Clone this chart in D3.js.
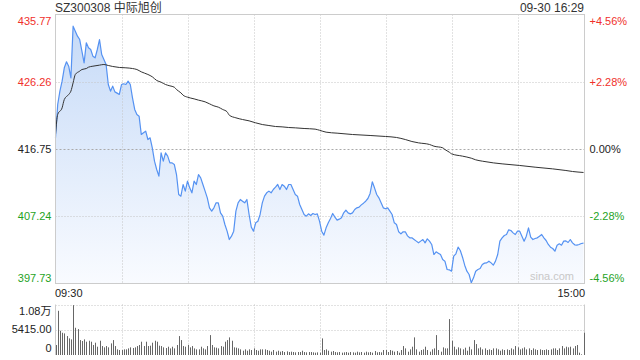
<!DOCTYPE html>
<html><head><meta charset="utf-8">
<script src="https://cdn.jsdelivr.net/npm/d3@7"></script>
<style>
html,body{margin:0;padding:0;background:#fff;}
svg{display:block;font-family:"Liberation Sans",Arial,"Noto Sans CJK SC",sans-serif;}
</style></head>
<body>
<svg id="chart" width="640" height="360"></svg>
<script>
// ---------- DATA ----------
const title = "SZ300308 中际旭创";
const stamp = "09-30 16:29";
const prevClose = 416.75;
const priceTicks = [435.77, 426.26, 416.75, 407.24, 397.73];
const pctTicks = ["+4.56%", "+2.28%", "0.00%", "-2.28%", "-4.56%"];
const timeTicks = ["09:30", "15:00"];
const volTicks = [10830, 5415, 0];
const volTickLabels = ["1.08万", "5415.00", "0"];

// one price per trading minute (0 = 09:30 ... 120 = 11:30, 121..240 = 13:01..15:00)
const prices = [
418.33,423.04,424.93,426.34,428.23,429.08,428.46,426.81,434.12,433.41,
432.71,432.23,430.58,428.93,431.76,431.06,430.82,429.88,429.64,430.82,
432.23,430.11,429.41,428.70,425.87,424.93,425.64,424.83,424.65,424.46,
425.87,425.97,425.87,426.34,425.87,423.99,422.34,421.63,421.39,418.80,
419.04,419.27,418.09,418.33,416.92,415.03,413.85,412.91,416.21,415.03,
416.21,415.74,414.79,414.79,414.56,413.14,410.32,410.08,411.73,410.79,
412.20,411.26,410.55,412.20,411.73,413.14,412.67,411.73,410.79,409.84,
408.43,407.96,408.43,409.14,409.14,407.72,407.25,406.07,405.13,403.95,
404.42,405.13,407.96,409.14,409.61,409.37,409.14,409.61,407.49,405.70,
405.13,406.31,406.54,407.49,409.14,410.08,410.55,410.79,410.55,411.02,
411.35,411.73,411.02,411.73,411.49,411.02,411.73,411.73,411.02,410.32,
410.08,408.90,408.19,407.49,407.25,407.58,407.35,407.63,407.49,407.58,
406.54,
405.13,404.57,405.60,406.31,406.92,407.63,407.11,406.69,406.83,407.02,
407.72,408.10,407.72,407.58,407.72,408.19,408.43,408.52,408.85,409.09,
409.37,409.75,410.46,412.11,411.26,410.32,409.84,409.14,408.43,408.29,
408.43,407.96,407.49,406.31,406.07,405.04,404.75,405.04,405.04,404.47,
404.19,404.19,403.95,403.72,403.48,403.72,403.95,403.48,404.05,403.72,
403.25,401.83,402.21,402.02,401.83,401.12,400.89,399.71,399.66,399.47,
401.60,401.93,402.87,402.40,401.45,400.32,399.47,399.00,397.83,398.53,
399.47,399.71,399.85,400.42,400.61,400.65,400.89,400.65,400.32,400.89,
401.83,403.72,404.19,404.52,404.66,405.32,405.22,404.89,404.66,405.13,
405.13,404.42,403.72,404.42,405.60,404.28,403.95,404.09,404.19,404.42,
404.66,404.19,403.81,403.25,402.87,402.68,402.30,403.15,403.34,403.15,
403.72,403.76,403.53,403.95,403.48,403.20,403.15,403.25,403.39,403.43
];

// average price line, read at these minutes
const avgMinutes = [0,1,3,4,6,7,8,9,11,12,14,15,17,20,22,24,26,29,32,35,37,39,42,44,46,48,50,52,54,55,57,58,60,63,65,68,70,72,74,76,78,79,82,85,88,91,94,97,100,103,106,109,113,118,120,
123,128,135,143,150,155,159,162,165,170,172,176,177,179,180,185,189,191,194,199,203,211,218,226,232,235,240];
const avgValues = [418.80,421.63,422.57,423.75,424.46,424.93,426.11,427.29,427.76,427.99,428.13,428.32,428.46,428.61,428.70,428.56,428.42,428.28,428.23,428.13,427.99,427.66,427.29,426.96,426.44,426.20,425.87,425.68,425.49,425.16,424.69,424.36,424.08,423.84,423.66,423.42,423.14,422.85,422.67,422.34,422.01,421.53,421.16,420.92,420.73,420.45,420.21,420.07,419.93,419.88,419.79,419.74,419.65,419.56,419.40,
419.13,418.99,418.80,418.66,418.52,418.38,418.09,417.81,417.62,417.39,417.15,416.92,416.68,416.30,416.07,415.74,415.45,415.22,415.03,414.79,414.65,414.42,414.18,413.94,413.71,413.57,413.43];

// volume per minute (shares)
const volumes = [
2140,9480,5200,4770,4630,4060,3560,3350,10690,5840,5560,3200,3000,3350,2850,3060,2850,2140,2640,1780,
3060,1920,1640,1920,1640,2490,3200,1920,1210,1070,1070,1210,1210,1420,1640,1500,1640,1920,2140,2850,
1920,2850,1920,2000,2640,3060,2850,2000,1920,1640,1500,1780,1420,1780,1420,2140,4060,3200,1920,1780,
2140,1640,1920,1420,1210,1210,1780,1420,1210,1920,4270,2140,1640,1570,1420,1920,1780,2850,3200,3780,
3060,1640,1570,1420,1210,920,1210,920,1210,1070,1420,1070,920,1210,1210,1210,1070,920,710,1070,
710,920,710,850,640,780,640,710,640,570,640,640,920,640,570,640,640,570,500,570,500,
3560,1070,1210,920,710,850,640,570,640,500,570,640,500,640,570,500,710,570,640,500,
710,570,640,500,850,570,640,570,1070,1070,640,1070,920,710,850,500,1070,1920,1420,710,
1210,1780,3780,1210,710,1070,1210,1780,1070,710,1210,1420,4270,1070,710,1640,1420,1420,7700,3060,
1780,1210,1640,1420,1210,1570,920,1780,1210,3200,2350,1420,1640,1210,1420,1070,1210,1070,1420,1420,
1210,920,1210,1070,1210,1070,1420,1210,1920,1640,1210,1420,1640,1210,1420,1070,1420,1210,1070,1210,
1070,1070,1210,1070,1210,1420,1420,1070,1420,1920,1420,1780,1640,1780,1420,1920,2140,500,140,4770
];

// ---------- CHART ----------
const svg = d3.select("#chart");
const L = 55.5, R = 584.5, T = 14.5, B = 283.5;
const VT = 304.5, VB = 355;

const x = d3.scaleLinear().domain([0, 240]).range([L, R - 1]);
const y = d3.scaleLinear().domain([priceTicks[4], priceTicks[0]]).range([B, T]);
const yv = d3.scaleLinear().domain([0, volTicks[0]]).range([VB, VT]);

const red = "#f0302b", green = "#1fa31f", grid = "#c4c4c4";

// gradient
const defs = svg.append("defs");
const g1 = defs.append("linearGradient").attr("id","fillGrad")
  .attr("gradientUnits","userSpaceOnUse").attr("x1",0).attr("x2",0).attr("y1",T).attr("y2",B);
g1.append("stop").attr("offset","0%").attr("stop-color","#c4d9f7");
g1.append("stop").attr("offset","100%").attr("stop-color","#f9fbff");

// title texts
svg.append("text").attr("x", 55).attr("y", 12).attr("font-size", 12).attr("fill", "#333").text(title);
svg.append("text").attr("x", 584).attr("y", 12).attr("font-size", 12).attr("fill", "#333")
  .attr("text-anchor","end").text(stamp);

// area (below grid)
const area = d3.area().x((d, i) => x(i)).y0(B).y1(d => y(d));
svg.append("path").datum(prices).attr("d", area).attr("fill", "url(#fillGrad)");

// vertical grid
const vgrid = d3.range(1, 8).map(i => i * 30);
svg.append("g").selectAll("line").data(vgrid).join("line")
  .attr("x1", d => Math.round(x(d)) + 0.5).attr("x2", d => Math.round(x(d)) + 0.5)
  .attr("y1", T).attr("y2", B)
  .attr("stroke", grid).attr("stroke-dasharray", "1,2");
svg.append("g").selectAll("line").data(vgrid).join("line")
  .attr("x1", d => Math.round(x(d)) + 0.5).attr("x2", d => Math.round(x(d)) + 0.5)
  .attr("y1", VT).attr("y2", VB)
  .attr("stroke", grid).attr("stroke-dasharray", "1,2");

// horizontal grid
svg.append("g").selectAll("line").data(priceTicks.slice(1, 4)).join("line")
  .attr("x1", L).attr("x2", R)
  .attr("y1", d => Math.round(y(d)) + 0.5).attr("y2", d => Math.round(y(d)) + 0.5)
  .attr("stroke", d => d === prevClose ? "#aaaaaa" : grid)
  .attr("stroke-dasharray", d => d === prevClose ? "2,2" : "1,2");

// price line
const line = d3.line().x((d, i) => x(i)).y(d => y(d));
svg.append("path").datum(prices).attr("d", line).attr("fill", "none")
  .attr("stroke", "#5592f2").attr("stroke-width", 1.2).attr("stroke-linejoin","round");

// avg line
const avgLine = d3.line().x(d => x(d[0])).y(d => y(d[1])).curve(d3.curveMonotoneX);
svg.append("path").datum(avgMinutes.map((m, i) => [m, avgValues[i]])).attr("d", avgLine)
  .attr("fill", "none").attr("stroke", "#333").attr("stroke-width", 1);

// watermark
svg.append("text").attr("x", 574).attr("y", 280).attr("text-anchor","end")
  .attr("font-size", 11).attr("fill", "#c8c8c8").text("sina.com");

// border
svg.append("rect").attr("x", L).attr("y", T).attr("width", R - L).attr("height", B - T)
  .attr("fill", "none").attr("stroke", "#cccccc");

// left axis
const leftAxis = d3.axisLeft(y).tickValues(priceTicks).tickSize(0).tickPadding(4)
  .tickFormat(d => d.toFixed(2));
const la = svg.append("g").attr("transform", `translate(${L},0)`).call(leftAxis);
la.select(".domain").remove();
la.selectAll("text").attr("font-size", 11).attr("font-family", null)
  .attr("fill", d => d > prevClose ? red : d < prevClose ? green : "#222")
  .attr("dy", (d, i) => i === 0 ? "0.95em" : i === 4 ? "-0.15em" : "0.32em");

// right axis
const rightAxis = d3.axisRight(y).tickValues(priceTicks).tickSize(0).tickPadding(5)
  .tickFormat((d, i) => pctTicks[i]);
const ra = svg.append("g").attr("transform", `translate(${R},0)`).call(rightAxis);
ra.select(".domain").remove();
ra.selectAll("text").attr("font-size", 11).attr("font-family", null)
  .attr("fill", d => d > prevClose ? red : d < prevClose ? green : "#222")
  .attr("dy", (d, i) => i === 0 ? "0.95em" : i === 4 ? "-0.15em" : "0.32em");

// time labels
svg.append("text").attr("x", 55).attr("y", 297).attr("font-size", 11).attr("fill", "#222").text(timeTicks[0]);
svg.append("text").attr("x", 585).attr("y", 297).attr("font-size", 11).attr("fill", "#222")
  .attr("text-anchor","end").text(timeTicks[1]);

// volume panel grid
svg.append("g").selectAll("line").data(volTicks.slice(0, 2)).join("line")
  .attr("x1", L).attr("x2", R)
  .attr("y1", d => Math.round(yv(d)) + 0.5).attr("y2", d => Math.round(yv(d)) + 0.5)
  .attr("stroke", grid).attr("stroke-dasharray", "1,2");
svg.append("line").attr("x1", R).attr("x2", R).attr("y1", VT).attr("y2", VB).attr("stroke", "#ccc");
svg.append("line").attr("x1", L).attr("x2", L).attr("y1", VT).attr("y2", VB).attr("stroke", "#ccc");

// volume bars
svg.append("g").selectAll("rect").data(volumes).join("rect")
  .attr("x", (d, i) => Math.round(x(i)))
  .attr("width", 1)
  .attr("y", d => yv(d))
  .attr("height", d => VB - yv(d))
  .attr("fill", "#666");

// volume axis
const va = svg.append("g").attr("transform", `translate(${L - 4},0)`);
va.selectAll("text").data(volTicks).join("text")
  .attr("x", 0).attr("y", d => yv(d))
  .attr("text-anchor", "end").attr("font-size", 11).attr("fill", "#222")
  .attr("dy", (d, i) => i === 0 ? "0.95em" : i === 2 ? "-0.25em" : "0.32em")
  .text((d, i) => volTickLabels[i]);
</script>
</body></html>
